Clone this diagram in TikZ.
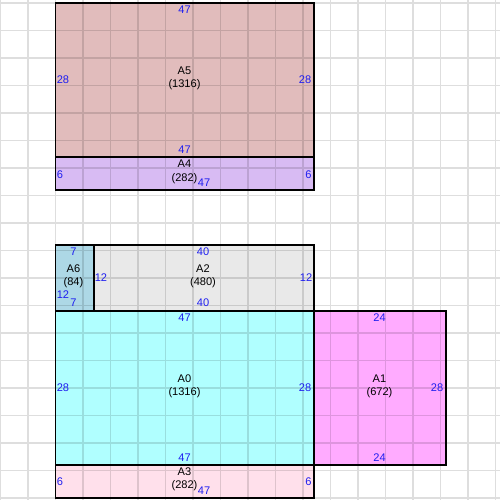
\documentclass[tikz,border=0pt]{standalone}
\usepackage{fontspec}
\setmainfont{Liberation Sans}
\definecolor{cA5}{HTML}{E1BCBC}
\definecolor{cA4}{HTML}{D8BBF3}
\definecolor{cA6}{HTML}{ADD8E6}
\definecolor{cA2}{HTML}{E9E9E9}
\definecolor{cA0}{HTML}{B0FFFF}
\definecolor{cA1}{HTML}{FFABFF}
\definecolor{cA3}{HTML}{FFE0EB}
\definecolor{dimblue}{HTML}{1E1EF0}
\begin{document}
\begin{tikzpicture}[x=0.02cm,y=-0.02cm,
  boxline/.style={draw=black, line width=0.75pt},
  gridline/.style={draw=black, opacity=0.13, line width=0.65pt},
  dim/.style={text=dimblue, font=\fontsize{6.3}{7.6}\selectfont, inner sep=0pt},
  lbl/.style={text=black, font=\fontsize{6.3}{7.6}\selectfont, align=center, inner sep=0pt}]
\useasboundingbox (0,0) rectangle (500,500);
% fills
\fill[cA5] (55.5,3) rectangle (314,157);
\fill[cA4] (55.5,157) rectangle (314,190);
\fill[cA6] (55.5,245) rectangle (94,311);
\fill[cA2] (94,245) rectangle (314,311);
\fill[cA0] (55.5,311) rectangle (314,465);
\fill[cA1] (314,311) rectangle (446,465);
\fill[cA3] (55.5,465) rectangle (314,498);
% grid
\draw[gridline] foreach \i in {0,...,18} {({0.5+27.5*\i},0) -- ({0.5+27.5*\i},500) (0,{3+27.5*\i}) -- (500,{3+27.5*\i})};
% borders
\draw[boxline] (55.5,3) rectangle (314,157);
\draw[boxline] (55.5,157) rectangle (314,190);
\draw[boxline] (55.5,245) rectangle (94,311);
\draw[boxline] (94,245) rectangle (314,311);
\draw[boxline] (55.5,311) rectangle (314,465);
\draw[boxline] (314,311) rectangle (446,465);
\draw[boxline] (55.5,465) rectangle (314,498);
% A5
\node[lbl] (a5) at (184.5,78.5) {A5\\(1316)};
\node[dim] (a5t) at (184.5,10) {47};
\node[dim] (a5b) at (184.5,150) {47};
\node[dim] (a5l) at (63,80) {28};
\node[dim] (a5r) at (305,80) {28};
% A4
\node[lbl] (a4) at (184.5,172) {A4\\(282)};
\node[dim] (a4b) at (204,183) {47};
\node[dim] (a4l) at (60,174.5) {6};
\node[dim] (a4r) at (308.5,174.5) {6};
% A6
\node[lbl] (a6) at (73.5,276.5) {A6\\(84)};
\node[dim] (a6t) at (73.5,252) {7};
\node[dim] (a6b) at (73.5,303) {7};
\node[dim] (a6l) at (63,295) {12};
\node[dim] (a6r) at (101,278) {12};
% A2
\node[lbl] (a2) at (203,276.5) {A2\\(480)};
\node[dim] (a2t) at (203,252) {40};
\node[dim] (a2b) at (203,303) {40};
\node[dim] (a2r) at (306,278) {12};
% A0
\node[lbl] (a0) at (184.5,386.5) {A0\\(1316)};
\node[dim] (a0t) at (184.5,317.5) {47};
\node[dim] (a0b) at (184.5,457.5) {47};
\node[dim] (a0l) at (63,388) {28};
\node[dim] (a0r) at (305,388) {28};
% A1
\node[lbl] (a1) at (379.5,386.5) {A1\\(672)};
\node[dim] (a1t) at (379.5,317.5) {24};
\node[dim] (a1b) at (379.5,458) {24};
\node[dim] (a1r) at (437,388) {28};
% A3
\node[lbl] (a3) at (184.5,479) {A3\\(282)};
\node[dim] (a3b) at (204,490.5) {47};
\node[dim] (a3l) at (60,481.5) {6};
\node[dim] (a3r) at (308.5,481.5) {6};
\end{tikzpicture}
\end{document}
